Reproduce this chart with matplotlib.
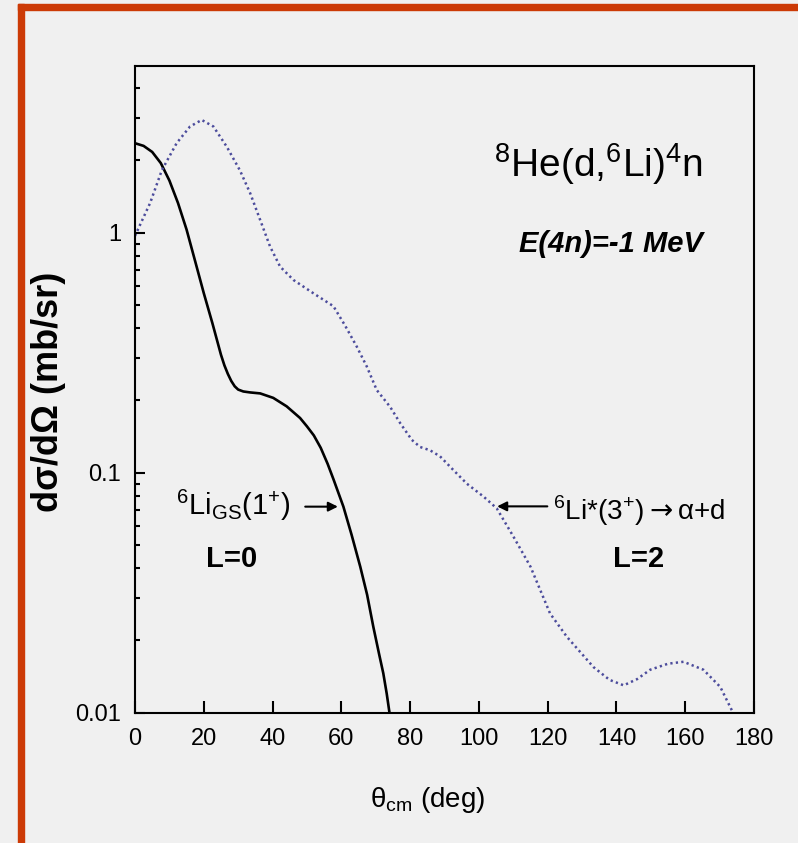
import matplotlib
matplotlib.use("Agg")
import matplotlib.pyplot as plt
from matplotlib.patches import Rectangle

# L=0 curve, 6Li ground state
theta_gs = [0, 2.5, 5, 7.5, 10, 12.5, 15, 17.5, 20, 22.5, 25, 26, 27, 28, 29, 30,
            31.5, 33.5, 36.4, 40.2, 44.1, 48, 50, 52, 54, 56, 57.7, 60.6, 63,
            65.5, 67.5, 69.3, 71, 72.2, 73.2, 74]
xs_gs = [2.36, 2.30, 2.17, 1.95, 1.65, 1.33, 1.03, 0.76, 0.56, 0.42, 0.31, 0.28,
         0.258, 0.241, 0.229, 0.222, 0.218, 0.216, 0.214, 0.205, 0.189, 0.169,
         0.156, 0.143, 0.127, 0.109, 0.094, 0.0722, 0.055, 0.0406, 0.031,
         0.0228, 0.0175, 0.0146, 0.012, 0.0100]

# L=2 curve, 6Li*(3+)
theta_ex = [0, 2, 4.4, 7.8, 12.1, 16, 19.4, 22.8, 26.7, 30.5, 33.5, 36.4, 39.3,
            42.2, 46.1, 51.9, 57.7, 61.1, 64.5, 67.4, 70.3, 74.2, 77.1, 80.5,
            82.9, 85.8, 88.7, 92.6, 96.5, 101.4, 105.2, 110, 115, 120.7, 125.6,
            133.3, 138, 142.1, 146, 149.8, 155, 159.5, 165.3, 170.2, 173.9]
xs_ex = [0.97, 1.12, 1.33, 1.82, 2.36, 2.77, 2.95, 2.77, 2.28, 1.82, 1.46, 1.13,
         0.874, 0.722, 0.635, 0.559, 0.494, 0.41, 0.335, 0.277, 0.221, 0.188,
         0.161, 0.137, 0.128, 0.124, 0.117, 0.1025, 0.090, 0.0794, 0.071,
         0.0543, 0.0406, 0.0259, 0.0207, 0.0155, 0.0137, 0.0130, 0.0138,
         0.0151, 0.0160, 0.0163, 0.0151, 0.0128, 0.0100]

x_ticks = [0, 20, 40, 60, 80, 100, 120, 140, 160, 180]
y_ticks = [0.01, 0.1, 1]
y_ticklabels = ["0.01", "0.1", "1"]

fonts = ["Liberation Sans", "DejaVu Sans"]
plt.rcParams["font.family"] = fonts

bg = "#f0f0f0"
fig = plt.figure(figsize=(7.98, 8.43), dpi=100, facecolor=bg)

# orange frame on left and top
W, H = 798, 843
fig.patches.append(Rectangle((18 / W, 0), 6 / W, 1 - 4 / H, transform=fig.transFigure,
                             color="#cc3a06", zorder=5))
fig.patches.append(Rectangle((18 / W, 1 - 10 / H), 1, 6 / H, transform=fig.transFigure,
                             color="#cc3a06", zorder=5))

ax = fig.add_axes([135 / W, 130.3 / H, 619 / W, 646.7 / H])
ax.set_facecolor(bg)

ax.plot(theta_gs, xs_gs, color="black", lw=1.9, solid_capstyle="butt")
ax.plot(theta_ex, xs_ex, color="#4c4c9c", lw=1.8, linestyle=(0, (0.9, 1.3)))

ax.set_yscale("log")
ax.set_xlim(0, 180)
ax.set_ylim(0.01, 4.95)
ax.set_xticks(x_ticks)
ax.set_yticks(y_ticks)
ax.set_yticklabels(y_ticklabels)

for sp in ax.spines.values():
    sp.set_linewidth(1.5)

ax.tick_params(axis="x", which="major", direction="in", length=9, width=1.5,
               labelsize=17, pad=11, top=False)
ax.tick_params(axis="x", which="minor", bottom=False, top=False)
ax.tick_params(axis="y", which="major", direction="in", length=7, width=1.5,
               labelsize=17, pad=10, right=False)
ax.tick_params(axis="y", which="minor", direction="in", length=3.5, width=1.5,
               right=False, labelleft=False)

ax.text(-0.1405, 0.496, "dσ/dΩ (mb/sr)", transform=ax.transAxes, rotation=90,
        ha="center", va="center", fontsize=26, fontweight="bold")
ax.text(0.473, -0.146, r"θ$_\mathregular{cm}$ (deg)", transform=ax.transAxes,
        ha="center", va="baseline", fontsize=20)

ax.text(0.9176, 0.828, r"$^\mathregular{8}$He(d,$^\mathregular{6}$Li)$^\mathregular{4}$n",
        transform=ax.transAxes, ha="right", va="baseline", fontsize=28)
ax.text(0.9176, 0.712, "E(4n)=-1 MeV", transform=ax.transAxes, ha="right",
        va="baseline", fontsize=21, fontweight="bold", fontstyle="italic")

# annotations
ax.text(45.1, 0.0669, r"$^\mathregular{6}$Li$_\mathregular{GS}$(1$^\mathregular{+}$)",
        ha="right", va="baseline", fontsize=21)
ax.annotate("", xy=(59.0, 0.0722), xytext=(49.5, 0.0722),
            arrowprops=dict(arrowstyle="-|>", color="black", lw=1.5,
                            mutation_scale=14, shrinkA=0, shrinkB=0))
ax.text(28.2, 0.0406, "L=0", ha="center", va="baseline", fontsize=21, fontweight="bold")

ax.annotate("", xy=(105.3, 0.0724), xytext=(119.9, 0.0724),
            arrowprops=dict(arrowstyle="-|>", color="black", lw=1.5,
                            mutation_scale=14, shrinkA=0, shrinkB=0))
ax.text(121.6, 0.0637, r"$^\mathregular{6}$Li*(3$^\mathregular{+}$)$\rightarrow$α+d",
        ha="left", va="baseline", fontsize=20)
ax.text(146.3, 0.0406, "L=2", ha="center", va="baseline", fontsize=21, fontweight="bold")

fig.savefig("out.png", dpi=100, facecolor=bg)
